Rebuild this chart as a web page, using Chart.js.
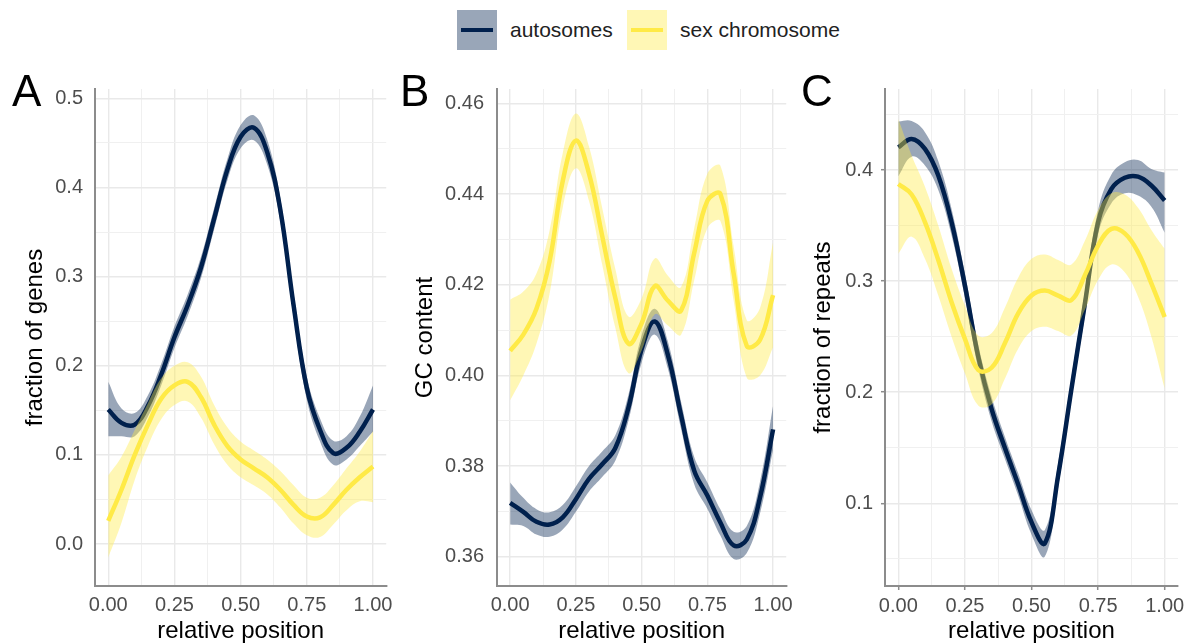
<!DOCTYPE html>
<html>
<head>
<meta charset="utf-8">
<script src="https://cdn.jsdelivr.net/npm/chart.js@4.4.1/dist/chart.umd.min.js"></script>
<style>
  body { margin: 0; background: #fff; width: 1193px; height: 644px; position: relative; overflow: hidden; font-family: "Liberation Sans", Arial, sans-serif; }
  canvas { position: absolute; top: 60px; }
  .tag { position: absolute; top: 69px; font-size: 44px; line-height: 1; color: #000; z-index: 2; }
  .key { position: absolute; top: 10px; width: 40px; height: 40px; }
  .key i { position: absolute; left: 4px; right: 4px; top: 18px; height: 4px; }
  .lbl { position: absolute; top: 30px; transform: translateY(-50%); font-size: 21px; color: #222; white-space: nowrap; }
</style>
</head>
<body>
<div class="key" style="left:457px;background:rgba(0,32,77,0.4)"><i style="background:#00204d"></i></div>
<div class="lbl" style="left:510px">autosomes</div>
<div class="key" style="left:627px;background:rgba(255,234,70,0.4)"><i style="background:#ffea46"></i></div>
<div class="lbl" style="left:680px">sex chromosome</div>

<div class="tag" style="left:12px">A</div>
<div class="tag" style="left:400px">B</div>
<div class="tag" style="left:801px">C</div>

<canvas id="genes" width="400" height="584" style="left:0px"></canvas>
<canvas id="gc" width="400" height="584" style="left:400px"></canvas>
<canvas id="repeats" width="403" height="584" style="left:790px"></canvas>

<script>
const positions = [0, 0.05, 0.1, 0.15, 0.2, 0.25, 0.3, 0.35, 0.4, 0.45, 0.5, 0.55, 0.6, 0.65, 0.7, 0.75, 0.8, 0.85, 0.9, 0.95, 1];

// A: fraction of genes
const genesAuto   = [0.151, 0.136, 0.134, 0.155, 0.190, 0.232, 0.268, 0.310, 0.365, 0.420, 0.457, 0.467, 0.440, 0.375, 0.268, 0.175, 0.128, 0.102, 0.108, 0.126, 0.151];
const genesAutoHi = [0.182, 0.152, 0.147, 0.167, 0.202, 0.244, 0.280, 0.322, 0.377, 0.432, 0.470, 0.481, 0.454, 0.388, 0.281, 0.188, 0.141, 0.116, 0.121, 0.143, 0.178];
const genesAutoLo = [0.121, 0.121, 0.121, 0.143, 0.178, 0.220, 0.256, 0.298, 0.353, 0.408, 0.444, 0.453, 0.426, 0.362, 0.255, 0.162, 0.115, 0.089, 0.095, 0.110, 0.126];
const genesSex    = [0.026, 0.061, 0.100, 0.134, 0.163, 0.178, 0.182, 0.165, 0.134, 0.110, 0.095, 0.085, 0.075, 0.061, 0.044, 0.031, 0.030, 0.044, 0.061, 0.075, 0.087];
const genesSexHi  = [0.077, 0.098, 0.128, 0.158, 0.186, 0.200, 0.204, 0.188, 0.156, 0.131, 0.115, 0.105, 0.095, 0.082, 0.066, 0.052, 0.052, 0.066, 0.085, 0.104, 0.127];
const genesSexLo  = [-0.015, 0.024, 0.072, 0.110, 0.140, 0.156, 0.160, 0.142, 0.112, 0.089, 0.075, 0.066, 0.056, 0.041, 0.023, 0.010, 0.008, 0.022, 0.038, 0.048, 0.047];

// B: GC content
const gcAuto   = [0.3719, 0.3699, 0.3677, 0.3671, 0.3687, 0.3727, 0.3772, 0.3804, 0.3840, 0.3929, 0.4058, 0.4119, 0.4045, 0.3912, 0.3790, 0.3735, 0.3675, 0.3625, 0.3638, 0.3730, 0.3881];
const gcAutoHi = [0.3764, 0.3730, 0.3705, 0.3698, 0.3714, 0.3755, 0.3800, 0.3832, 0.3868, 0.3958, 0.4088, 0.4147, 0.4075, 0.3942, 0.3820, 0.3764, 0.3704, 0.3655, 0.3668, 0.3765, 0.3933];
const gcAutoLo = [0.3671, 0.3668, 0.3649, 0.3644, 0.3660, 0.3699, 0.3744, 0.3776, 0.3812, 0.3900, 0.4028, 0.4090, 0.4015, 0.3882, 0.3760, 0.3706, 0.3646, 0.3595, 0.3608, 0.3695, 0.3836];
const gcSex    = [0.4054, 0.4090, 0.4147, 0.4252, 0.4429, 0.4518, 0.4445, 0.4308, 0.4171, 0.4070, 0.4115, 0.4197, 0.4165, 0.4143, 0.4270, 0.4385, 0.4400, 0.4225, 0.4065, 0.4078, 0.4177];
const gcSexHi  = [0.4167, 0.4185, 0.4225, 0.4320, 0.4490, 0.4578, 0.4505, 0.4370, 0.4235, 0.4130, 0.4170, 0.4258, 0.4220, 0.4195, 0.4325, 0.4445, 0.4462, 0.4285, 0.4122, 0.4148, 0.4294];
const gcSexLo  = [0.3945, 0.4000, 0.4070, 0.4180, 0.4370, 0.4457, 0.4385, 0.4245, 0.4105, 0.4005, 0.4055, 0.4135, 0.4110, 0.4090, 0.4210, 0.4325, 0.4340, 0.4165, 0.3995, 0.4000, 0.4062];

// C: fraction of repeats
const repAuto   = [0.4204, 0.428, 0.419, 0.395, 0.353, 0.296, 0.232, 0.185, 0.150, 0.117, 0.083, 0.064, 0.125, 0.203, 0.279, 0.353, 0.383, 0.393, 0.394, 0.386, 0.3725];
const repAutoHi = [0.4436, 0.444, 0.434, 0.408, 0.365, 0.307, 0.243, 0.196, 0.160, 0.127, 0.094, 0.076, 0.136, 0.213, 0.290, 0.364, 0.396, 0.407, 0.409, 0.401, 0.3977];
const repAutoLo = [0.3944, 0.412, 0.404, 0.382, 0.341, 0.285, 0.221, 0.174, 0.140, 0.107, 0.072, 0.052, 0.114, 0.193, 0.268, 0.342, 0.370, 0.379, 0.377, 0.367, 0.3436];
const repSex    = [0.3874, 0.378, 0.353, 0.319, 0.281, 0.248, 0.220, 0.222, 0.244, 0.271, 0.287, 0.2915, 0.287, 0.283, 0.305, 0.332, 0.347, 0.343, 0.326, 0.298, 0.2677];
const repSexHi  = [0.4458, 0.413, 0.385, 0.350, 0.311, 0.278, 0.251, 0.253, 0.276, 0.303, 0.320, 0.324, 0.319, 0.315, 0.336, 0.364, 0.379, 0.378, 0.366, 0.346, 0.329];
const repSexLo  = [0.3246, 0.340, 0.320, 0.287, 0.250, 0.217, 0.188, 0.189, 0.212, 0.239, 0.255, 0.259, 0.255, 0.251, 0.274, 0.301, 0.315, 0.308, 0.286, 0.250, 0.203];

const NAVY = "#00204d", NAVY_BAND = "rgba(0,32,77,0.4)";
const YELLOW = "#ffea46", YELLOW_BAND = "rgba(255,234,70,0.4)";
const AXIS = "#8c8c8c";

const pts = ys => positions.map((x, i) => ({ x, y: ys[i] }));
const isMajor = (v, step) => Math.abs(v / step - Math.round(v / step)) < 1e-6;

function series(line, hi, lo, color, band) {
  // line first so that it sits above its own ribbon (datasets draw in reverse order)
  return [
    { data: pts(line), borderColor: color, borderWidth: 4.5, pointRadius: 0, tension: 0.4, fill: false },
    { data: pts(hi), borderWidth: 0, pointRadius: 0, tension: 0.4, backgroundColor: band, fill: "+1" },
    { data: pts(lo), borderWidth: 0, pointRadius: 0, tension: 0.4, fill: false }
  ];
}

function panel(id, p) {
  const tickColor = c => (p.ticks && isMajor(c.tick.value, c.scale.axis === "x" ? 0.25 : p.major) ? AXIS : "rgba(0,0,0,0)");
  new Chart(document.getElementById(id), {
    type: "line",
    data: {
      datasets: [
        ...series(p.sex, p.sexHi, p.sexLo, YELLOW, YELLOW_BAND),
        ...series(p.auto, p.autoHi, p.autoLo, NAVY, NAVY_BAND)
      ]
    },
    options: {
      responsive: false,
      animation: false,
      layout: { padding: { top: 29, right: p.padRight } },
      plugins: { legend: { display: false }, tooltip: { enabled: false } },
      scales: {
        x: {
          type: "linear", min: -0.05, max: 1.05,
          afterFit: s => { s.height = 58; },
          border: { color: AXIS, width: 2 },
          grid: {
            color: c => isMajor(c.tick.value, 0.25) ? "#e9e9e9" : "#f0f0f0",
            lineWidth: c => isMajor(c.tick.value, 0.25) ? 1.4 : 1,
            drawTicks: p.ticks, tickLength: 4, tickColor, tickWidth: 1.5
          },
          ticks: {
            stepSize: 0.125, includeBounds: false, autoSkip: false, maxRotation: 0,
            padding: p.ticks ? 4 : 7, color: "#4d4d4d", font: { size: 20 },
            callback: v => isMajor(v, 0.25) ? v.toFixed(2) : ""
          },
          title: { display: true, text: "relative position", color: "#000", font: { size: 24, lineHeight: 1 }, padding: { top: 0, bottom: 1 } }
        },
        y: {
          min: p.min, max: p.max,
          afterFit: s => { s.width = p.yWidth; },
          border: { color: AXIS, width: 2 },
          grid: {
            color: c => isMajor(c.tick.value, p.major) ? "#e9e9e9" : "#f0f0f0",
            lineWidth: c => isMajor(c.tick.value, p.major) ? 1.4 : 1,
            drawTicks: p.ticks, tickLength: 4, tickColor, tickWidth: 1.5
          },
          ticks: {
            stepSize: p.major / 2, includeBounds: false, autoSkip: false,
            padding: p.tickPad, color: "#4d4d4d", font: { size: 20 },
            callback: v => isMajor(v, p.major) ? v.toFixed(p.digits) : ""
          },
          title: { display: true, text: p.title, color: "#000", font: { size: 24, lineHeight: 1 }, padding: { top: p.titlePad, bottom: 0 } }
        }
      }
    }
  });
}

panel("genes", {
  auto: genesAuto, autoHi: genesAutoHi, autoLo: genesAutoLo,
  sex: genesSex, sexHi: genesSexHi, sexLo: genesSexLo,
  min: -0.047, max: 0.5105, major: 0.1, digits: 1,
  title: "fraction of genes", titlePad: 23, yWidth: 95, padRight: 12, tickPad: 12, ticks: false
});
panel("gc", {
  auto: gcAuto, autoHi: gcAutoHi, autoLo: gcAutoLo,
  sex: gcSex, sexHi: gcSexHi, sexLo: gcSexLo,
  min: 0.35354, max: 0.4632, major: 0.02, digits: 2,
  title: "GC content", titlePad: 13, yWidth: 97, padRight: 10, tickPad: 13, ticks: false
});
panel("repeats", {
  auto: repAuto, autoHi: repAutoHi, autoLo: repAutoLo,
  sex: repSex, sexHi: repSexHi, sexLo: repSexLo,
  min: 0.02556, max: 0.4729, major: 0.1, digits: 1,
  title: "fraction of repeats", titlePad: 21, yWidth: 95, padRight: 15, tickPad: 8, ticks: true
});
</script>
</body>
</html>
